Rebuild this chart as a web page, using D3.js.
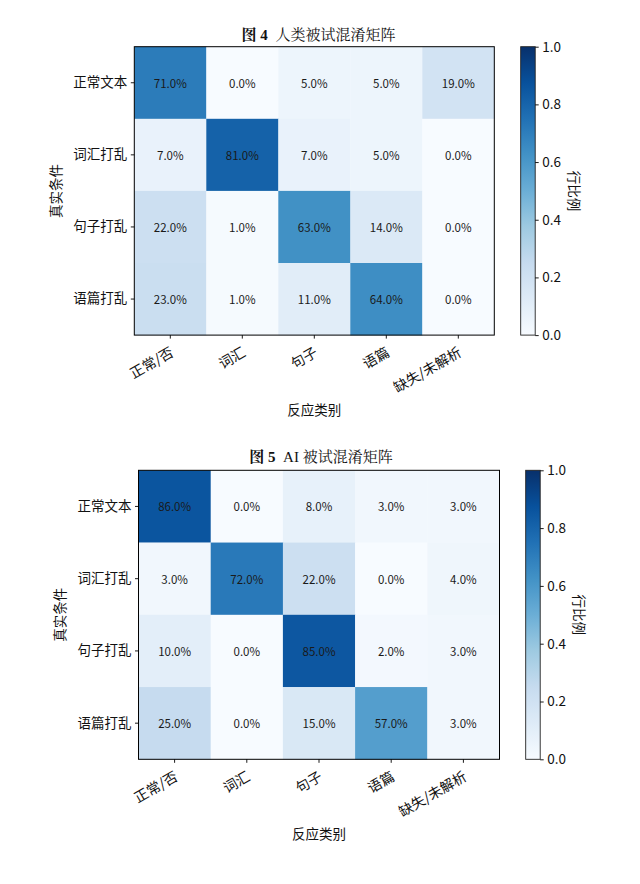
<!DOCTYPE html>
<html>
<head>
<meta charset="utf-8">
<script src="https://cdn.jsdelivr.net/npm/d3@7"></script>
<style>
  html, body { margin: 0; padding: 0; background: #fff; }
  svg { display: block; }
  text { font-family: "Noto Sans CJK SC", "Noto Sans", sans-serif; fill: #111; }
</style>
</head>
<body>
<svg id="chart" width="640" height="884"></svg>
<script>
// ---- data ----
const rowLabels = ["正常文本", "词汇打乱", "句子打乱", "语篇打乱"];
const colLabels = ["正常/否", "词汇", "句子", "语篇", "缺失/未解析"];
const humanValues = [
  [71, 0, 5, 5, 19],
  [7, 81, 7, 5, 0],
  [22, 1, 63, 14, 0],
  [23, 1, 11, 64, 0]
];
const aiValues = [
  [86, 0, 8, 3, 3],
  [3, 72, 22, 0, 4],
  [10, 0, 85, 2, 3],
  [25, 0, 15, 57, 3]
];
const colorbarTicks = [0, 0.2, 0.4, 0.6, 0.8, 1.0];
const titleNumbers = ["图 4", "图 5"];
const titleTexts = ["人类被试混淆矩阵", "AI 被试混淆矩阵"];
const xAxisTitle = "反应类别";
const yAxisTitle = "真实条件";
const colorbarTitle = "行比例";
const bluesStops = ["#f7fbff","#deebf7","#c6dbef","#9ecae1","#6baed6","#4292c6","#2171b5","#08519c","#08306b"];

// ---- layout ----
const panels = [
  { values: humanValues, x0: 134.3, y0: 46.7, w: 360, h: 288.4, cbX: 520.7, titleX: 318.5, titleY: 39.5, ylabX: 55, cbLabX: 575 },
  { values: aiValues,    x0: 138.5, y0: 470.3, w: 361, h: 289, cbX: 525.7, titleX: 321, titleY: 462, ylabX: 59, cbLabX: 580 }
];

const svg = d3.select("#chart");
const color = d3.scaleLinear()
  .domain(bluesStops.map((d, i) => i / (bluesStops.length - 1)))
  .range(bluesStops)
  .interpolate(d3.interpolateRgb)
  .clamp(true);

const defs = svg.append("defs");
const grad = defs.append("linearGradient").attr("id", "bluesGrad")
  .attr("x1", 0).attr("y1", 1).attr("x2", 0).attr("y2", 0);
bluesStops.forEach((c, i) => {
  grad.append("stop").attr("offset", (i / (bluesStops.length - 1)) * 100 + "%").attr("stop-color", c);
});

panels.forEach((p, pi) => {
  const g = svg.append("g");
  const x = d3.scaleBand().domain(colLabels).range([p.x0, p.x0 + p.w]).padding(0);
  const y = d3.scaleBand().domain(rowLabels).range([p.y0, p.y0 + p.h]).padding(0);

  const cells = [];
  p.values.forEach((row, ri) => row.forEach((v, ci) => cells.push({ r: rowLabels[ri], c: colLabels[ci], v })));

  g.selectAll("rect.cell").data(cells).join("rect")
    .attr("class", "cell")
    .attr("x", d => x(d.c))
    .attr("y", d => y(d.r))
    .attr("width", x.bandwidth() + 0.3)
    .attr("height", y.bandwidth() + 0.3)
    .attr("fill", d => color(d.v / 100));

  g.selectAll("text.val").data(cells).join("text")
    .attr("class", "val")
    .attr("x", d => x(d.c) + x.bandwidth() / 2)
    .attr("y", d => y(d.r) + y.bandwidth() / 2)
    .attr("text-anchor", "middle")
    .attr("dominant-baseline", "central")
    .style("font-size", "11.5px")
    .style("fill", "#1a1a1a")
    .text(d => d.v.toFixed(1) + "%");

  // frame
  g.append("rect")
    .attr("x", p.x0).attr("y", p.y0).attr("width", p.w).attr("height", p.h)
    .attr("fill", "none").attr("stroke", "#000").attr("stroke-width", 1);

  // y axis
  const yAx = g.append("g").attr("transform", `translate(${p.x0},0)`)
    .call(d3.axisLeft(y).tickSize(3.5).tickPadding(3.5).tickSizeOuter(0));
  yAx.select(".domain").remove();
  yAx.selectAll("line").attr("stroke", "#000").attr("stroke-width", 0.9);
  yAx.selectAll("text").style("font-size", "13.5px").style("font-family", "'Noto Sans CJK SC', sans-serif").attr("fill", "#111");

  // x axis
  const xAx = g.append("g").attr("transform", `translate(0,${p.y0 + p.h})`)
    .call(d3.axisBottom(x).tickSize(3.5).tickPadding(3.5).tickSizeOuter(0));
  xAx.select(".domain").remove();
  xAx.selectAll("line").attr("stroke", "#000").attr("stroke-width", 0.9);
  xAx.selectAll("text")
    .style("font-size", "14px").style("font-family", "'Noto Sans CJK SC', sans-serif").attr("fill", "#111")
    .attr("text-anchor", "end")
    .attr("dy", null)
    .attr("dominant-baseline", "hanging")
    .attr("y", 0)
    .attr("transform", "translate(-2,9) rotate(-30)");

  // axis titles
  g.append("text")
    .attr("x", p.x0 + p.w / 2).attr("y", p.y0 + p.h + 74)
    .attr("text-anchor", "middle").attr("dominant-baseline", "central")
    .style("font-size", "13.5px").text(xAxisTitle);
  g.append("text")
    .attr("transform", `translate(${p.ylabX},${p.y0 + p.h / 2}) rotate(-90)`)
    .attr("text-anchor", "middle").attr("dominant-baseline", "central")
    .style("font-size", "13.5px").text(yAxisTitle);

  // title
  const t = g.append("text")
    .attr("x", p.titleX).attr("y", p.titleY)
    .attr("text-anchor", "middle")
    .attr("xml:space", "preserve")
    .style("white-space", "pre")
    .style("font-size", "15px")
    .style("font-family", "'Liberation Serif', 'Noto Serif CJK SC', 'Noto Sans CJK SC', serif");
  t.append("tspan").style("font-weight", "bold").text(titleNumbers[pi]);
  t.append("tspan").style("font-weight", "normal").text("  " + titleTexts[pi]);

  // colorbar
  const cbW = 14.5;
  const cbScale = d3.scaleLinear().domain([0, 1]).range([p.y0 + p.h, p.y0]);
  g.append("rect")
    .attr("x", p.cbX).attr("y", p.y0).attr("width", cbW).attr("height", p.h)
    .attr("fill", "url(#bluesGrad)").attr("stroke", "#222").attr("stroke-width", 0.9);
  const cbAx = g.append("g").attr("transform", `translate(${p.cbX + cbW},0)`)
    .call(d3.axisRight(cbScale).tickValues(colorbarTicks).tickFormat(d3.format(".1f")).tickSize(3.5).tickPadding(3.5));
  cbAx.select(".domain").remove();
  cbAx.selectAll("line").attr("stroke", "#000").attr("stroke-width", 0.9);
  cbAx.selectAll("text").style("font-size", "13.5px").style("font-family", "'Noto Sans CJK SC', sans-serif").attr("fill", "#111");

  g.append("text")
    .attr("transform", `translate(${p.cbLabX},${p.y0 + p.h / 2}) rotate(90)`)
    .attr("text-anchor", "middle").attr("dominant-baseline", "central")
    .style("font-size", "13.5px").text(colorbarTitle);
});
</script>
</body>
</html>
